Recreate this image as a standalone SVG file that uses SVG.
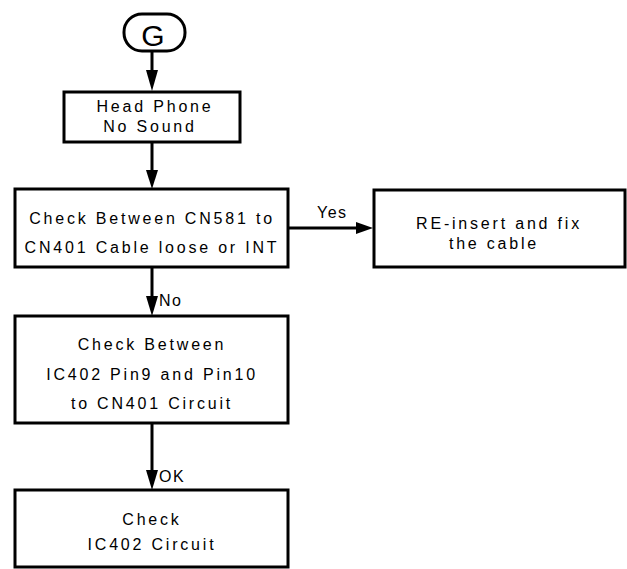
<svg xmlns="http://www.w3.org/2000/svg" width="627" height="569" viewBox="0 0 627 569">
<style>
.box{fill:#fff;stroke:#000;stroke-width:3}
.ln{stroke:#000;stroke-width:3;fill:none}
.ah{fill:#000}
.t{font-family:"Liberation Sans",Arial,sans-serif;font-size:16px;letter-spacing:2.8px;fill:#000;text-anchor:middle}
.lb{font-family:"Liberation Sans",Arial,sans-serif;font-size:16px;letter-spacing:1.5px;fill:#000}
.g{font-family:"Liberation Sans",Arial,sans-serif;font-size:30px;fill:#000;text-anchor:middle}
</style>
<rect width="627" height="569" fill="#fff"/>
<g id="connectors">
<line class="ln" x1="152" y1="51" x2="152" y2="72"/>
<polygon class="ah" points="146,70 158,70 152,91"/>
<line class="ln" x1="152" y1="142" x2="152" y2="172"/>
<polygon class="ah" points="146,170 158,170 152,189"/>
<line class="ln" x1="288" y1="228" x2="359" y2="228"/>
<polygon class="ah" points="356,222 356,234 373,228"/>
<text class="lb" x="317" y="218">Yes</text>
<line class="ln" x1="152" y1="267" x2="152" y2="298"/>
<polygon class="ah" points="146,296 158,296 152,316"/>
<text class="lb" x="159" y="306">No</text>
<line class="ln" x1="152" y1="423" x2="152" y2="472"/>
<polygon class="ah" points="146,470 158,470 152,490"/>
<text class="lb" x="159" y="482">OK</text>
</g>
<g id="start">
<rect class="box" x="124" y="14" width="61" height="37" rx="18" ry="18"/>
<text class="g" x="153" y="46">G</text>
</g>
<g id="n1">
<rect class="box" x="64" y="92" width="176" height="50"/>
<text class="t" x="155" y="112">Head Phone</text>
<text class="t" x="150" y="132">No Sound</text>
</g>
<g id="n2">
<rect class="box" x="15" y="189" width="273" height="78"/>
<text class="t" x="152" y="224">Check Between CN581 to</text>
<text class="t" x="152" y="253">CN401 Cable loose or INT</text>
</g>
<g id="n3">
<rect class="box" x="374" y="190" width="251" height="77"/>
<text class="t" x="499" y="229">RE-insert and fix</text>
<text class="t" x="494" y="249">the cable</text>
</g>
<g id="n4">
<rect class="box" x="15" y="316" width="273" height="107"/>
<text class="t" x="152" y="350">Check Between</text>
<text class="t" x="152" y="380">IC402 Pin9 and Pin10</text>
<text class="t" x="152" y="409">to CN401 Circuit</text>
</g>
<g id="n5">
<rect class="box" x="15" y="490" width="273" height="77"/>
<text class="t" x="152" y="525">Check</text>
<text class="t" x="152" y="550">IC402 Circuit</text>
</g>
</svg>
